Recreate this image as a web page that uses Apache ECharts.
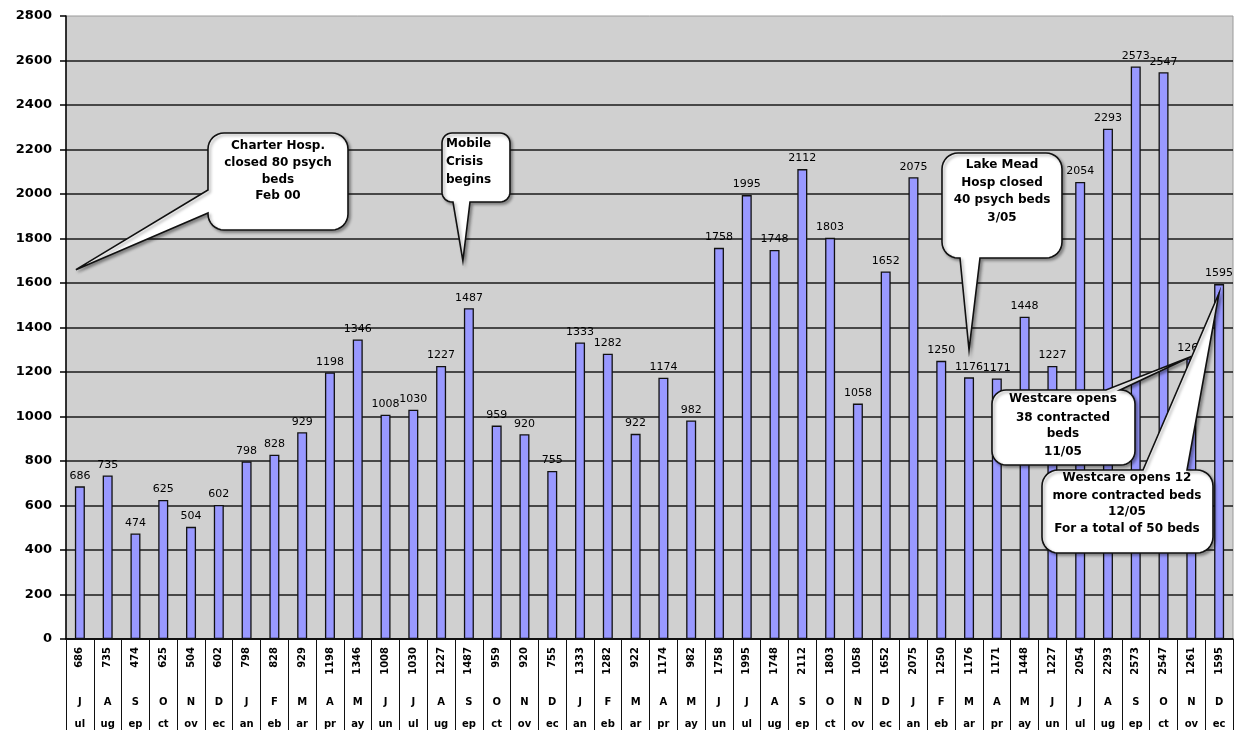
<!DOCTYPE html>
<html>
<head>
<meta charset="utf-8">
<script src="https://cdn.jsdelivr.net/npm/echarts@6.0.0/dist/echarts.min.js"></script>
<style>
  html, body { margin: 0; padding: 0; background: #ffffff; }
  #chart { width: 1244px; height: 730px; }
</style>
</head>
<body>
<div id="chart"></div>
<script>
// Monthly counts, July 2002 through December 2005
const months = [
  'Jul','Aug','Sep','Oct','Nov','Dec',
  'Jan','Feb','Mar','Apr','May','Jun','Jul','Aug','Sep','Oct','Nov','Dec',
  'Jan','Feb','Mar','Apr','May','Jun','Jul','Aug','Sep','Oct','Nov','Dec',
  'Jan','Feb','Mar','Apr','May','Jun','Jul','Aug','Sep','Oct','Nov','Dec'
];
const visits = [
  686, 735, 474, 625, 504, 602,
  798, 828, 929, 1198, 1346, 1008, 1030, 1227, 1487, 959, 920, 755,
  1333, 1282, 922, 1174, 982, 1758, 1995, 1748, 2112, 1803, 1058, 1652,
  2075, 1250, 1176, 1171, 1448, 1227, 2054, 2293, 2573, 2547, 1261, 1595
];
const yMin = 0, yMax = 2800, yStep = 200;

// Event notes and the [month index, value] each one points at
const noteTexts = [
  ['Charter Hosp.', 'closed 80 psych', 'beds', 'Feb 00'],
  ['Mobile', 'Crisis', 'begins'],
  ['Lake Mead', 'Hosp closed', '40 psych beds', '3/05'],
  ['Westcare opens', '38 contracted', 'beds', '11/05'],
  ['Westcare opens 12', 'more contracted beds', '12/05', 'For a total of 50 beds']
];
const noteTargets = [[0, 1660], [14, 1700], [32, 1300], [40, 1270], [41, 1555]];

// Callout box placement (pixels)
const calloutBoxes = [
  { x: 208, y: 133, w: 140, h: 97, r: 16, side: 'left',   base: [190, 213], align: 'center', tx: 278,  ty: [146, 163, 180, 196], dx: -4 },
  { x: 442, y: 133, w: 68,  h: 69, r: 10, side: 'bottom', base: [453, 470], align: 'left',   tx: 446,  ty: [144, 162, 180], dx: -6 },
  { x: 942, y: 153, w: 120, h: 105, r: 16, side: 'bottom', base: [960, 980], align: 'center', tx: 1002, ty: [165, 183, 200, 218], dx: 0 },
  { x: 992, y: 390, w: 143, h: 75, r: 14, side: 'top',    base: [1106, 1120], align: 'center', tx: 1063, ty: [399, 418, 434, 452], dx: 0 },
  { x: 1042, y: 470, w: 171, h: 83, r: 16, side: 'top',   base: [1143, 1187], align: 'center', tx: 1127, ty: [478, 496, 512, 529], dx: 0 }
];

const FONT = '"DejaVu Sans", "Liberation Sans", sans-serif';

const chart = echarts.init(document.getElementById('chart'), null, { renderer: 'canvas' });

const gridColors = [];
for (let v = yMin; v <= yMax; v += yStep) gridColors.push(v === yMax ? 'rgba(0,0,0,0)' : '#1a1a1a');

chart.setOption({
  backgroundColor: '#ffffff',
  animation: false,
  grid: {
    left: 66, right: 11, top: 16, bottom: 91,
    show: true,
    backgroundColor: '#d0d0d0',
    borderColor: '#9a9a9a',
    borderWidth: 1
  },
  xAxis: [
    {
      type: 'category',
      data: months,
      position: 'bottom',
      boundaryGap: true,
      axisLine: { show: true, onZero: false, lineStyle: { color: '#000', width: 1.5 } },
      axisTick: { show: true, interval: 0, length: 91, lineStyle: { color: '#111', width: 1 } },
      axisLabel: {
        interval: 0, rotate: 90, margin: 8,
        color: '#000', fontFamily: FONT, fontWeight: 'bold', fontSize: 10,
        formatter: (v, i) => String(visits[i])
      },
      splitLine: { show: false }
    },
    {
      type: 'category',
      data: months,
      position: 'bottom',
      axisLine: { show: false, onZero: false },
      axisTick: { show: false },
      axisLabel: {
        interval: 0, margin: 58,
        color: '#000', fontFamily: FONT, fontWeight: 'bold', fontSize: 10,
        formatter: v => v.charAt(0)
      }
    },
    {
      type: 'category',
      data: months,
      position: 'bottom',
      axisLine: { show: false, onZero: false },
      axisTick: { show: false },
      axisLabel: {
        interval: 0, margin: 80,
        color: '#000', fontFamily: FONT, fontWeight: 'bold', fontSize: 10,
        formatter: v => v.slice(1)
      }
    }
  ],
  yAxis: {
    type: 'value',
    min: yMin, max: yMax, interval: yStep,
    axisLine: { show: true, lineStyle: { color: '#000', width: 1.5 } },
    axisTick: { show: true, length: 6, lineStyle: { color: '#000', width: 1.5 } },
    axisLabel: {
      margin: 14, color: '#000', fontFamily: FONT, fontWeight: 'bold', fontSize: 13,
      formatter: v => String(v)
    },
    splitLine: { show: true, lineStyle: { color: gridColors, width: 1.6 } }
  },
  series: [{
    type: 'bar',
    xAxisIndex: 0,
    data: visits,
    barWidth: 10,
    itemStyle: { color: '#9999ff', borderColor: '#111', borderWidth: 1.3 },
    label: {
      show: true, position: 'top', distance: 5,
      color: '#000', fontFamily: FONT, fontSize: 11,
      formatter: '{c}'
    },
    z: 3
  }]
});

// Quarter-circle corner points, from angle a0 to a1 (radians)
function corner(cx, cy, r, a0, a1, out) {
  const n = 8;
  for (let s = 0; s <= n; s++) {
    const a = a0 + (a1 - a0) * s / n;
    out.push([cx + r * Math.cos(a), cy + r * Math.sin(a)]);
  }
}

// Rounded box outline with a pointer wedge on one side, clockwise
function calloutPoints(b, tip) {
  const { x, y, w, h, r, side, base } = b;
  const x2 = x + w, y2 = y + h;
  const P = Math.PI;
  const pts = [];
  corner(x + r, y + r, r, P, 1.5 * P, pts);            // top-left
  if (side === 'top') pts.push([base[0], y], tip, [base[1], y]);
  corner(x2 - r, y + r, r, 1.5 * P, 2 * P, pts);       // top-right
  corner(x2 - r, y2 - r, r, 0, 0.5 * P, pts);          // bottom-right
  if (side === 'bottom') pts.push([base[1], y2], tip, [base[0], y2]);
  corner(x + r, y2 - r, r, 0.5 * P, P, pts);           // bottom-left
  if (side === 'left') pts.push([x, base[1]], tip, [x, base[0]]);
  return pts;
}

const graphics = [];
calloutBoxes.forEach((b, k) => {
  const p = chart.convertToPixel({ xAxisIndex: 0, yAxisIndex: 0 }, noteTargets[k]);
  const tip = [p[0] + b.dx, p[1]];
  graphics.push({
    type: 'polygon',
    z: 100,
    shape: { points: calloutPoints(b, tip) },
    style: {
      fill: '#ffffff', stroke: '#111', lineWidth: 1.6,
      shadowColor: 'rgba(0,0,0,0.35)', shadowBlur: 3, shadowOffsetX: 2, shadowOffsetY: 2
    }
  });
  noteTexts[k].forEach((line, j) => {
    graphics.push({
      type: 'text',
      z: 101,
      style: {
        text: line, x: b.tx, y: b.ty[j],
        textAlign: b.align, textVerticalAlign: 'middle',
        font: `bold 12px ${FONT}`, fill: '#000'
      }
    });
  });
});
chart.setOption({ graphic: graphics });
</script>
</body>
</html>
